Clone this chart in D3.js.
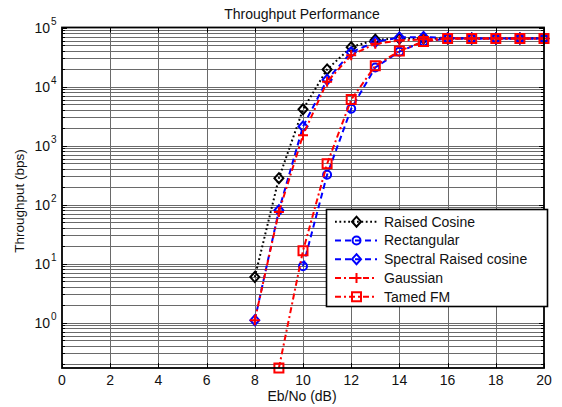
<!DOCTYPE html>
<html>
<head>
<meta charset="utf-8">
<script src="https://cdn.jsdelivr.net/npm/d3@7/dist/d3.min.js"></script>
<style>
  html, body { margin: 0; padding: 0; background: #fff; }
  svg { display: block; font-family: "Liberation Sans", Arial, sans-serif; }
</style>
</head>
<body>
<svg id="chart" width="562" height="407"></svg>
<script>
// Eb/No sweep (dB)
const ebno = [8, 9, 10, 11, 12, 13, 14, 15, 16, 17, 18, 19, 20];

// Throughput (bps) per pulse shape; null = no throughput at that Eb/No
const raisedCosine   = [5.9, 280, 4100, 19500, 46500, 62000, 65000, 65000, 65000, 65000, 65000, 65000, 65000];
const rectangular    = [null, null, 9, 320, 4200, 21000, 39000, 58000, 65000, 65000, 65000, 65000, 65000];
const spectralRC     = [1.1, 80, 2100, 13000, 38000, 57000, 68000, 69000, 66000, 65000, 65000, 65000, 65000];
const gaussian       = [1.1, 75, 1500, 12000, 34000, 53000, 60000, 63000, 65000, 65000, 65000, 65000, 65000];
const tamedFM        = [null, 0.17, 16.5, 490, 6000, 22500, 40000, 58000, 65000, 65000, 65000, 65000, 65000];

const seriesNames = ["Raised Cosine", "Rectangular", "Spectral Raised cosine", "Gaussian", "Tamed FM"];
const seriesValues = [raisedCosine, rectangular, spectralRC, gaussian, tamedFM];

const xTicks = [0, 2, 4, 6, 8, 10, 12, 14, 16, 18, 20];
const yDecades = [0, 1, 2, 3, 4, 5];

const titleText = "Throughput Performance";
const xLabelText = "Eb/No (dB)";
const yLabelText = "Throughput (bps)";

// Styling per series
const styles = [
  { color: "#000000", dash: "1.8,2.6", marker: "diamond" },
  { color: "#0000ff", dash: "6,4",     marker: "circle" },
  { color: "#0000ff", dash: "6,4",     marker: "diamond" },
  { color: "#ff0000", dash: "6,3,2,3", marker: "plus" },
  { color: "#ff0000", dash: "6,3,2,3", marker: "square" }
];

const svg = d3.select("#chart");
const L = 62, R = 544, T = 27.5, B = 368;

const x = d3.scaleLinear().domain([0, 20]).range([L, R]);
const y = d3.scaleLog().domain([0.17, 1e5]).range([B, T]);

// Grid
const grid = svg.append("g").attr("stroke", "#6a6a6a").attr("stroke-width", 1);
xTicks.filter(v => v > 0 && v < 20).forEach(v => {
  const px = Math.round(x(v)) + 0.5;
  grid.append("line").attr("x1", px).attr("x2", px).attr("y1", T).attr("y2", B);
});
const yGridVals = [];
for (let e = -1; e <= 4; e++) {
  for (let k = 1; k <= 9; k++) {
    const v = k * Math.pow(10, e);
    if (v > 0.17 && v < 1e5) yGridVals.push(v);
  }
}
yGridVals.forEach(v => {
  const py = Math.round(y(v)) + 0.5;
  grid.append("line").attr("x1", L).attr("x2", R).attr("y1", py).attr("y2", py);
});

// Ticks (inward, all four sides)
const ticks = svg.append("g").attr("stroke", "#000").attr("stroke-width", 1);
xTicks.forEach(v => {
  const px = Math.round(x(v)) + 0.5;
  ticks.append("line").attr("x1", px).attr("x2", px).attr("y1", B).attr("y2", B - 5);
  ticks.append("line").attr("x1", px).attr("x2", px).attr("y1", T).attr("y2", T + 5);
});
yGridVals.concat([1e5]).forEach(v => {
  const py = Math.round(y(v)) + 0.5;
  const len = Number.isInteger(Math.log10(v)) ? 5 : 3;
  ticks.append("line").attr("x1", L).attr("x2", L + len).attr("y1", py).attr("y2", py);
  ticks.append("line").attr("x1", R).attr("x2", R - len).attr("y1", py).attr("y2", py);
});

// Series lines and markers
const line = d3.line()
  .defined(d => d.v !== null)
  .x(d => x(d.x))
  .y(d => y(d.v));

function markerPath(type, cx, cy) {
  const p = d3.path();
  if (type === "diamond") {
    p.moveTo(cx, cy - 5); p.lineTo(cx + 4.5, cy); p.lineTo(cx, cy + 5); p.lineTo(cx - 4.5, cy); p.closePath();
  } else if (type === "circle") {
    p.moveTo(cx + 4, cy); p.arc(cx, cy, 4, 0, 2 * Math.PI);
  } else if (type === "square") {
    p.rect(cx - 4.5, cy - 4.5, 9, 9);
  } else if (type === "plus") {
    p.moveTo(cx - 5, cy); p.lineTo(cx + 5, cy); p.moveTo(cx, cy - 5); p.lineTo(cx, cy + 5);
  }
  return p.toString();
}

const plot = svg.append("g");
seriesValues.forEach((vals, i) => {
  const st = styles[i];
  const pts = ebno.map((e, j) => ({ x: e, v: vals[j] }));
  plot.append("path")
    .attr("d", line(pts))
    .attr("fill", "none")
    .attr("stroke", st.color)
    .attr("stroke-width", 2)
    .attr("stroke-dasharray", st.dash);
  plot.append("g").selectAll("path")
    .data(pts.filter(d => d.v !== null))
    .join("path")
    .attr("d", d => markerPath(st.marker, x(d.x), y(d.v)))
    .attr("fill", "none")
    .attr("stroke", st.color)
    .attr("stroke-width", 2);
});

// Axes box
svg.append("rect")
  .attr("x", L).attr("y", T).attr("width", R - L).attr("height", B - T)
  .attr("fill", "none").attr("stroke", "#000").attr("stroke-width", 1.8);

// X tick labels
svg.append("g").selectAll("text")
  .data(xTicks).join("text")
  .attr("x", d => x(d)).attr("y", 385)
  .attr("text-anchor", "middle")
  .attr("font-size", 14)
  .attr("fill", "#111")
  .text(d => d);

// Y tick labels: 10^n
const yl = svg.append("g");
yDecades.forEach(e => {
  const py = y(Math.pow(10, e));
  yl.append("text")
    .attr("x", 50).attr("y", py + 5)
    .attr("text-anchor", "end")
    .attr("font-size", 14)
    .attr("fill", "#111")
    .text("10");
  yl.append("text")
    .attr("x", 51).attr("y", py - 3)
    .attr("font-size", 10)
    .attr("fill", "#111")
    .text(e);
});

// Title and axis labels
svg.append("text")
  .attr("x", 302).attr("y", 19)
  .attr("text-anchor", "middle")
  .attr("font-size", 14)
  .attr("fill", "#111")
  .text(titleText);
svg.append("text")
  .attr("x", 302).attr("y", 401)
  .attr("text-anchor", "middle")
  .attr("font-size", 14)
  .attr("fill", "#111")
  .text(xLabelText);
svg.append("text")
  .attr("transform", "translate(24,201) rotate(-90)")
  .attr("text-anchor", "middle")
  .attr("font-size", 13.5)
  .attr("fill", "#111")
  .text(yLabelText);

// Legend
const lg = svg.append("g");
lg.append("rect")
  .attr("x", 326.5).attr("y", 209.5).attr("width", 221).attr("height", 97)
  .attr("fill", "#fff").attr("stroke", "#000").attr("stroke-width", 1.6);
seriesNames.forEach((name, i) => {
  const st = styles[i];
  const cy = 221.7 + i * 18.75;
  lg.append("line")
    .attr("x1", 335).attr("x2", 377).attr("y1", cy).attr("y2", cy)
    .attr("stroke", st.color).attr("stroke-width", 2)
    .attr("stroke-dasharray", st.dash);
  lg.append("path")
    .attr("d", markerPath(st.marker, 356.5, cy))
    .attr("fill", "none").attr("stroke", st.color).attr("stroke-width", 2);
  lg.append("text")
    .attr("x", 384).attr("y", cy + 5)
    .attr("font-size", 14)
    .attr("fill", "#111")
    .text(name);
});
</script>
</body>
</html>
